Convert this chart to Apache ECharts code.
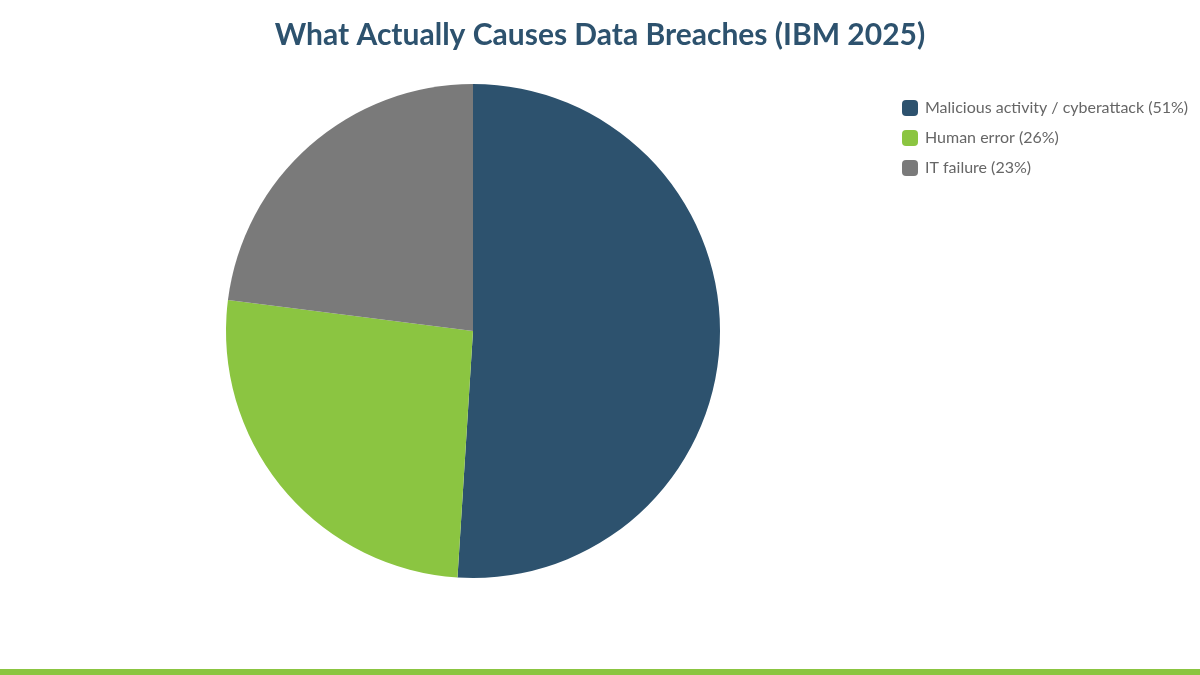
<!DOCTYPE html>
<html>
<head>
<meta charset="utf-8">
<script src="https://cdn.jsdelivr.net/npm/echarts@6/dist/echarts.min.js"></script>
<style>
  html, body { margin: 0; padding: 0; background: #fff; }
  #chart { width: 1200px; height: 675px; }
  .bar { position: absolute; left: 0; top: 669px; width: 1200px; height: 6px; background: #8bc541; }
</style>
</head>
<body>
<div id="chart"></div>
<div class="bar"></div>
<script>
const causes = ['Malicious activity / cyberattack', 'Human error', 'IT failure']
const shares = [51, 26, 23]
const colors = ['#2d526e', '#8bc541', '#7a7a7a']

let myChart = echarts.init(document.getElementById('chart'))
myChart.setOption({
  title: {
    text: 'What Actually Causes Data Breaches (IBM 2025)',
    left: 'center',
    top: 15,
    textStyle: {
      color: '#2d526e',
      fontFamily: 'Lato',
      fontWeight: 'bold',
      fontSize: 30
    }
  },
  color: colors,
  legend: {
    orient: 'vertical',
    left: 897,
    top: 95,
    itemWidth: 16,
    itemHeight: 16,
    itemGap: 14,
    icon: 'roundRect',
    textStyle: {
      color: '#666',
      fontFamily: 'Lato',
      fontSize: 16,
      padding: [0, 0, 0, 2]
    },
    formatter: function (name) {
      let i = causes.indexOf(name)
      return name + ' (' + shares[i] + '%)'
    }
  },
  series: [
    {
      type: 'pie',
      center: [473, 331],
      radius: 247,
      startAngle: 90,
      clockwise: true,
      label: { show: false },
      labelLine: { show: false },
      emphasis: { scale: false },
      data: causes.map((c, i) => ({ name: c, value: shares[i] }))
    }
  ]
})
</script>
</body>
</html>
